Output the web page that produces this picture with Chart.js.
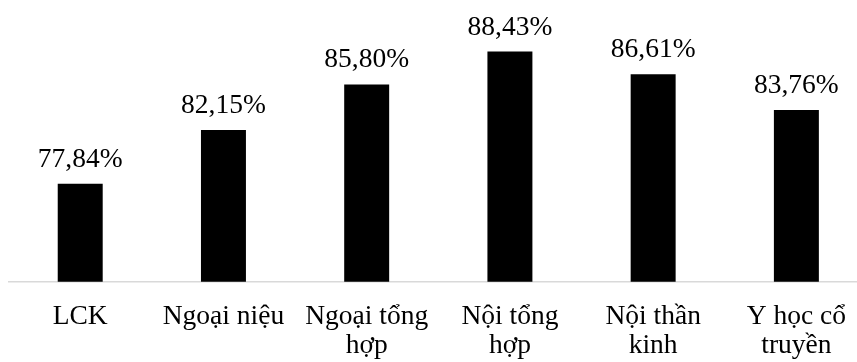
<!DOCTYPE html>
<html>
<head>
<meta charset="utf-8">
<script src="https://cdn.jsdelivr.net/npm/chart.js@4/dist/chart.umd.min.js"></script>
<style>
  html, body { margin: 0; padding: 0; background: #fff; overflow: hidden; }
  #wrap { width: 868px; height: 362px; }
</style>
</head>
<body>
<div id="wrap"><canvas id="barChart" width="868" height="362"></canvas></div>
<script>
const categories = [
  'LCK',
  'Ngoại niệu',
  ['Ngoại tổng', 'hợp'],
  ['Nội tổng', 'hợp'],
  ['Nội thần', 'kinh'],
  ['Y học cổ', 'truyền']
];
const rates = [77.84, 82.15, 85.80, 88.43, 86.61, 83.76];
const axisMin = 70;
const axisMax = 90;

const serif = "'Liberation Serif', 'Times New Roman', serif";

// value labels above each bar, e.g. "77,84%"
const valueLabels = {
  id: 'valueLabels',
  afterDatasetsDraw(chart) {
    const ctx = chart.ctx;
    const meta = chart.getDatasetMeta(0);
    ctx.save();
    ctx.font = '27.5px ' + serif;
    ctx.fillStyle = '#000';
    ctx.textAlign = 'center';
    ctx.textBaseline = 'alphabetic';
    meta.data.forEach((bar, i) => {
      const txt = rates[i].toFixed(2).replace('.', ',') + '%';
      ctx.fillText(txt, bar.x, bar.y - 17);
    });
    ctx.restore();
  }
};

const ctx = document.getElementById('barChart').getContext('2d');
new Chart(ctx, {
  type: 'bar',
  data: {
    labels: categories,
    datasets: [{
      data: rates,
      backgroundColor: '#000000',
      borderWidth: 0,
      barPercentage: 0.314,
      categoryPercentage: 1
    }]
  },
  options: {
    responsive: false,
    animation: false,
    layout: { padding: { left: 8.6, right: 0, top: 32, bottom: -18.5 } },
    plugins: {
      legend: { display: false },
      tooltip: { enabled: false }
    },
    scales: {
      x: {
        grid: { display: false, drawTicks: false },
        border: { display: true, color: '#d9d9d9', width: 1.5 },
        ticks: {
          color: '#000',
          padding: 20,
          maxRotation: 0,
          autoSkip: false,
          font: { family: serif, size: 27.5, lineHeight: 1.07 }
        }
      },
      y: {
        display: false,
        min: axisMin,
        max: axisMax
      }
    }
  },
  plugins: [valueLabels]
});
</script>
</body>
</html>
